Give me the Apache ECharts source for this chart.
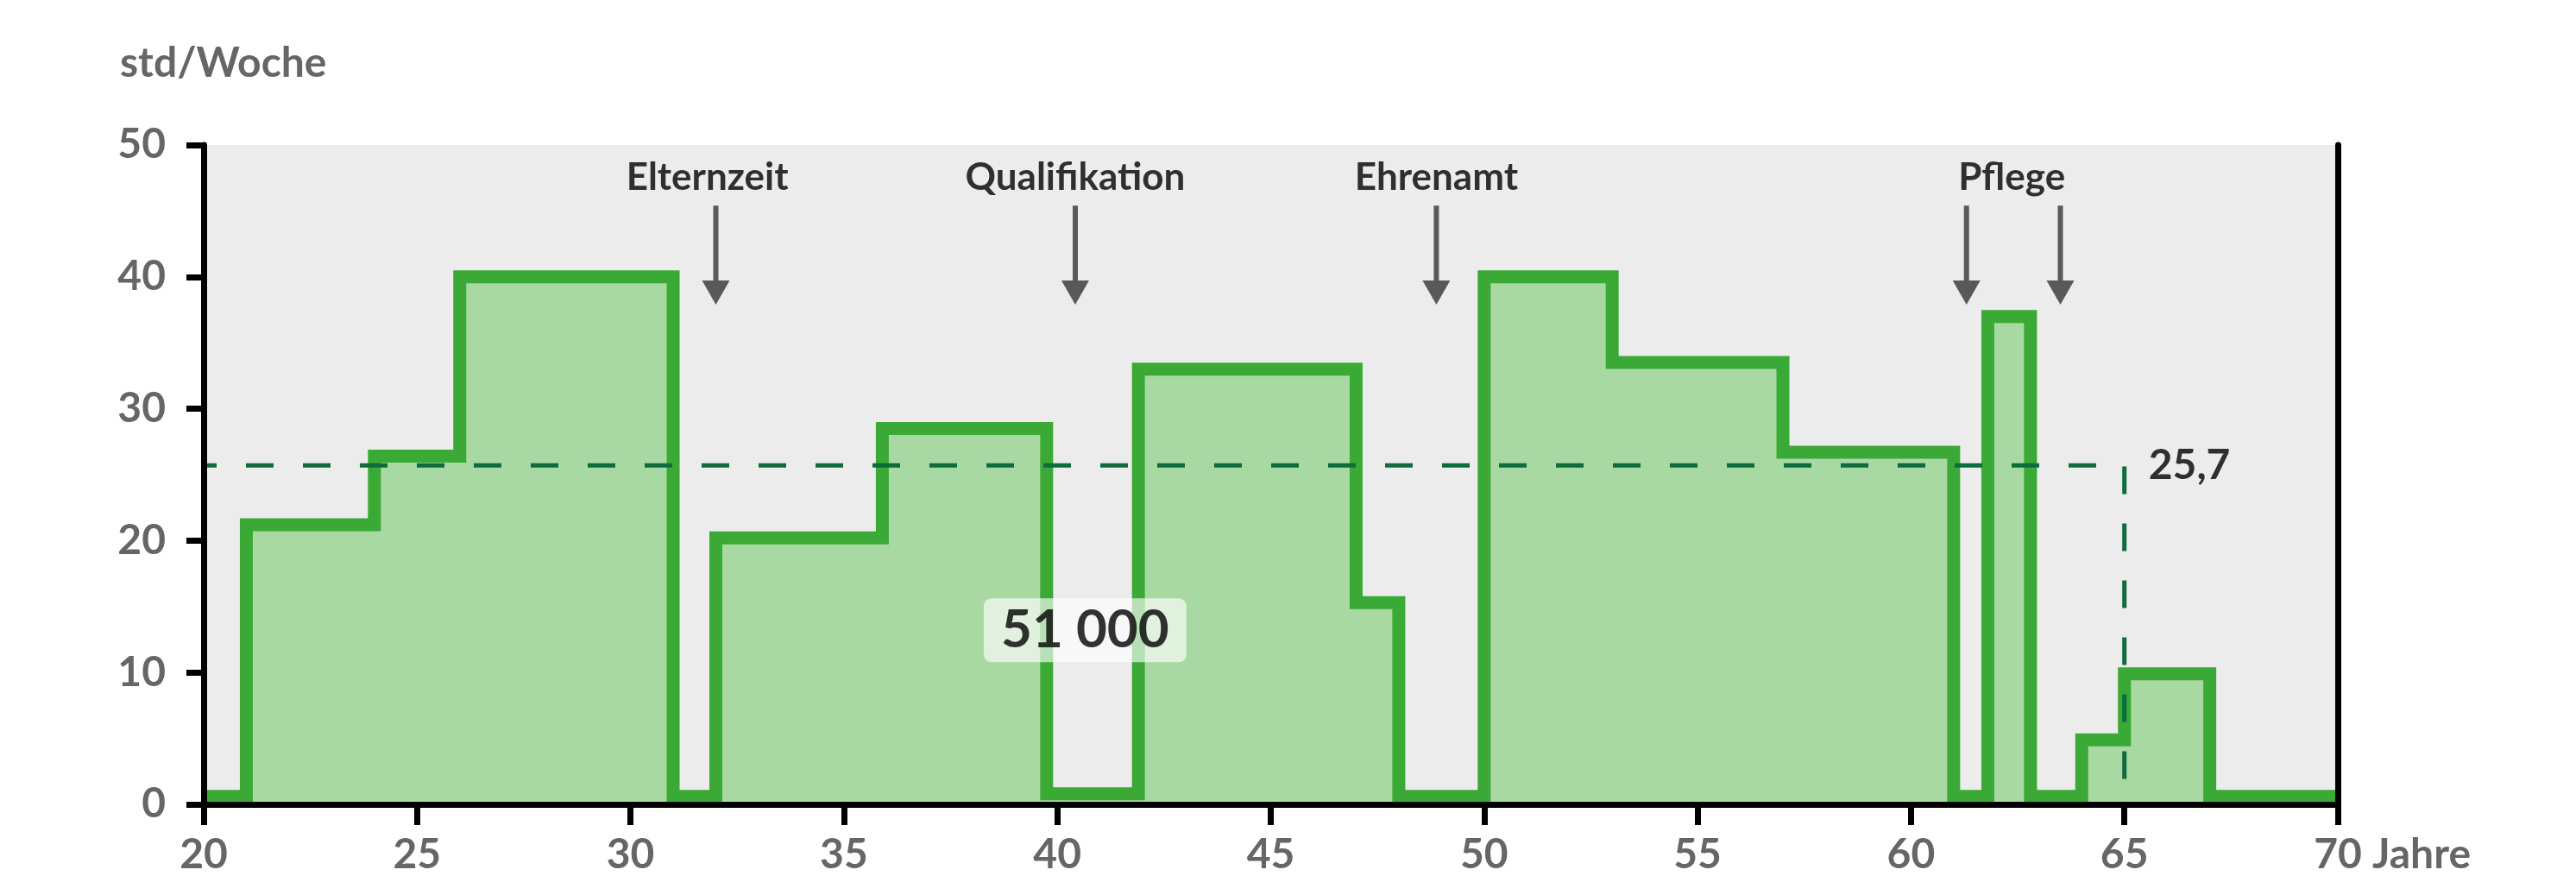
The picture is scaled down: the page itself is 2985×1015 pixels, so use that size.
<!DOCTYPE html>
<html>
<head>
<meta charset="utf-8">
<title>Wochenarbeitszeit im Lebensverlauf</title>
<script src="https://cdn.jsdelivr.net/npm/echarts/dist/echarts.min.js"></script>
<style>
  html, body { margin: 0; padding: 0; background: #ffffff; }
  #chart { width: 2985px; height: 1015px; }
</style>
</head>
<body>
<div id="chart"></div>
<script>
// Wochenstunden je Lebensabschnitt: jeder Wert gilt ab dem Alter bis zum nächsten Eintrag
const stepAges = [20, 21, 24, 26, 31, 32, 35.9, 39.75, 41.9, 47, 48, 50, 53, 57, 61, 61.8, 62.8, 64, 65, 67, 70];
const stepHours = [0.6, 21.2, 26.4, 40, 0.6, 20.2, 28.5, 0.8, 33, 15.3, 0.6, 40, 33.5, 26.7, 0.6, 37, 0.6, 4.9, 9.9, 0.6, 0.6];

// Durchschnitt bis zum Renteneintritt
const averageHours = 25.7;
const retirementAge = 65;
const averageStartAge = 20;

// Lebensarbeitszeit gesamt
const totalHours = 51000;
const totalLabelPos = [40.65, 13.2];

// Ereignisse mit Pfeilen
const eventNames = ['Elternzeit', 'Qualifikation', 'Ehrenamt', 'Pflege'];
const eventLabelAges = [31.8, 40.42, 48.88, 62.36];
const eventLabelLevel = 47.5;
const arrowAges = [32.0, 40.42, 48.88, 61.3, 63.5];
const arrowTop = 45.4;
const arrowTip = 37.9;

// Achsen
const xTicks = [20, 25, 30, 35, 40, 45, 50, 55, 60, 65, 70];
const yTicks = [0, 10, 20, 30, 40, 50];
const xUnit = 'Jahre';
const yUnit = 'std/Woche';

const FONT = 'Lato';
const GREY = '#666666';

const stepData = stepAges.map((a, i) => [a, stepHours[i]]);
const avgData = [[averageStartAge, averageHours], [retirementAge, averageHours], [retirementAge, 0]];
const arrowData = arrowAges.map(a => [a, arrowTop, arrowTip]);

const fmtComma = v => String(v).replace('.', ',');
const fmtThousands = v => String(v).replace(/\B(?=(\d{3})+(?!\d))/g, ' ');

const labelPoints = eventNames.map((n, i) => ({
  name: n,
  value: [eventLabelAges[i], eventLabelLevel],
  label: {
    show: true, position: 'inside', formatter: n,
    fontFamily: FONT, fontWeight: 'bold', fontSize: 44, color: '#000'
  }
}));
labelPoints.push({
  name: 'total',
  value: totalLabelPos,
  label: {
    show: true, position: 'inside', formatter: fmtThousands(totalHours),
    fontFamily: FONT, fontWeight: 'bold', fontSize: 62, color: '#000',
    backgroundColor: 'rgba(255,255,255,0.8)', borderRadius: 9,
    padding: [8, 20, 4, 20]
  }
});
labelPoints.push({
  name: 'avg',
  value: [retirementAge, averageHours],
  label: {
    show: true, position: 'right', distance: 28, formatter: fmtComma(averageHours),
    fontFamily: FONT, fontWeight: 'bold', fontSize: 48, color: '#000'
  }
});

const chart = echarts.init(document.getElementById('chart'), null, { renderer: 'canvas' });

const axisLine = { show: true, lineStyle: { color: '#000', width: 7 } };

chart.setOption({
  animation: false,
  backgroundColor: '#ffffff',
  title: {
    text: yUnit, left: 134, top: 45,
    textStyle: { fontFamily: FONT, fontWeight: 'bold', fontSize: 48, color: GREY }
  },
  grid: {
    left: 236, right: 276, top: 168, bottom: 82,
    show: true, backgroundColor: '#ececec', borderWidth: 0
  },
  xAxis: [{
    type: 'value', min: xTicks[0], max: xTicks[xTicks.length - 1], interval: 5,
    position: 'bottom', z: 10,
    axisLine: axisLine,
    axisTick: { show: true, inside: false, length: 24, lineStyle: { color: '#000', width: 7 } },
    axisLabel: { margin: 35, fontFamily: FONT, fontWeight: 'bold', fontSize: 48, color: GREY },
    splitLine: { show: false },
    name: xUnit, nameLocation: 'end', nameGap: 40,
    nameTextStyle: {
      fontFamily: FONT, fontWeight: 'bold', fontSize: 48, color: GREY,
      align: 'left', verticalAlign: 'top', padding: [35, 0, 0, 0]
    }
  }, {
    type: 'value', min: xTicks[0], max: xTicks[xTicks.length - 1], interval: 5,
    position: 'top', z: 10,
    axisLine: axisLine, axisTick: { show: false }, axisLabel: { show: false }, splitLine: { show: false }
  }],
  yAxis: [{
    type: 'value', min: yTicks[0], max: yTicks[yTicks.length - 1], interval: 10,
    position: 'left', z: 10,
    axisLine: axisLine,
    axisTick: { show: true, inside: false, length: 20, lineStyle: { color: '#000', width: 7 } },
    axisLabel: { margin: 44, fontFamily: FONT, fontWeight: 'bold', fontSize: 48, color: GREY },
    splitLine: { show: false }
  }, {
    type: 'value', min: yTicks[0], max: yTicks[yTicks.length - 1], interval: 10,
    position: 'right', z: 10,
    axisLine: axisLine, axisTick: { show: false }, axisLabel: { show: false }, splitLine: { show: false }
  }],
  series: [
    {
      name: 'Wochenstunden',
      type: 'line',
      step: 'end',
      data: stepData,
      showSymbol: false,
      symbol: 'none',
      z: 2,
      lineStyle: { color: '#3ba935', width: 15, join: 'miter', cap: 'butt' },
      areaStyle: { color: '#a8d9a2', opacity: 1, origin: 'start' }
    },
    {
      name: 'Durchschnitt',
      type: 'line',
      data: avgData,
      showSymbol: false,
      symbol: 'none',
      z: 4,
      lineStyle: { color: '#0d6b3c', width: 5, type: [32, 34], dashOffset: 17, join: 'miter' }
    },
    {
      name: 'Pfeile',
      type: 'custom',
      z: 5,
      clip: false,
      data: arrowData,
      encode: { x: 0, y: 1 },
      renderItem: function (params, api) {
        const p1 = api.coord([api.value(0), api.value(1)]);
        const p2 = api.coord([api.value(0), api.value(2)]);
        const headH = 28, headW = 32;
        return {
          type: 'group',
          children: [
            { type: 'line', shape: { x1: p1[0], y1: p1[1], x2: p2[0], y2: p2[1] - headH + 2 },
              style: { stroke: '#595959', lineWidth: 6 } },
            { type: 'polygon',
              shape: { points: [[p2[0] - headW / 2, p2[1] - headH], [p2[0] + headW / 2, p2[1] - headH], [p2[0], p2[1]]] },
              style: { fill: '#595959' } }
          ]
        };
      }
    },
    {
      name: 'Beschriftung',
      type: 'scatter',
      z: 6,
      symbolSize: 0,
      data: labelPoints
    }
  ]
});
</script>
</body>
</html>
